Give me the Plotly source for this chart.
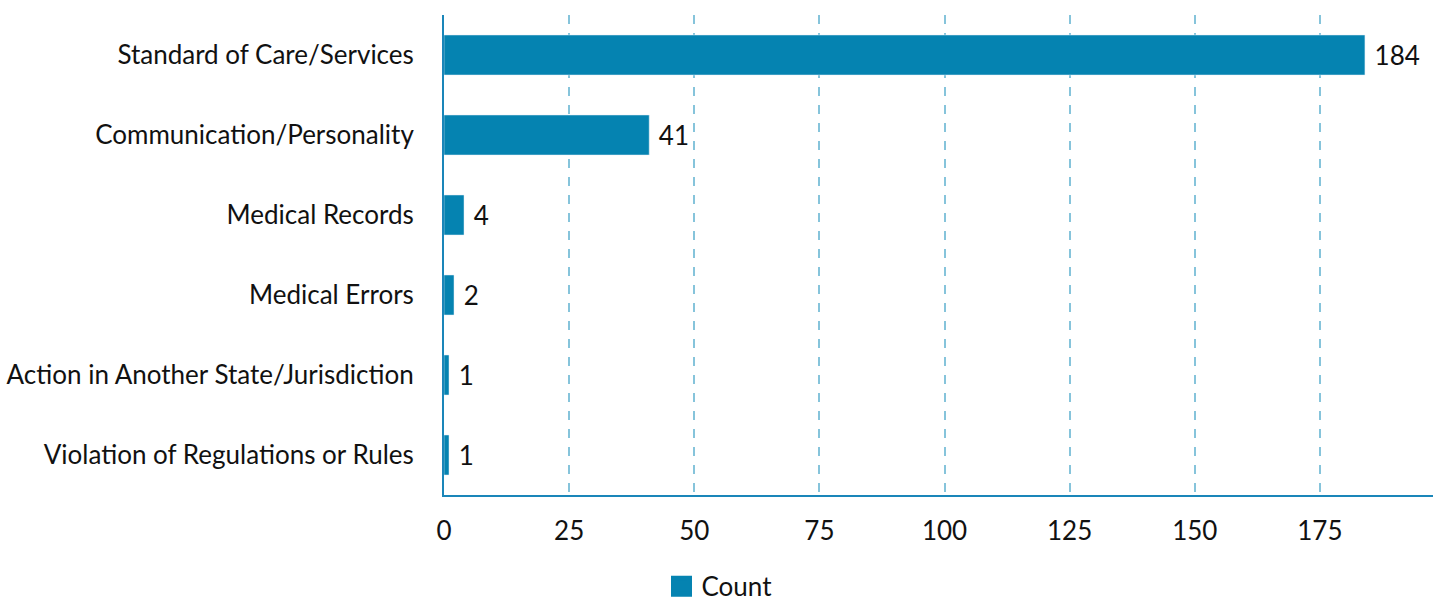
import plotly.graph_objects as go

categories = [
    "Standard of Care/Services",
    "Communication/Personality",
    "Medical Records",
    "Medical Errors",
    "Action in Another State/Jurisdiction",
    "Violation of Regulations or Rules",
]
counts = [184, 41, 4, 2, 1, 1]
x_ticks = [0, 25, 50, 75, 100, 125, 150, 175]

bar_color = "#0583B1"
axis_color = "#1A86B9"
grid_color = "#86C4DB"
font_family = "Lato, 'Open Sans', sans-serif"
font_size = 26

fig = go.Figure()

# The bars themselves, labelled with their value just past the end
fig.add_trace(
    go.Bar(
        x=counts,
        y=categories,
        orientation="h",
        name="Count",
        marker=dict(color=bar_color),
        text=["\u00a0" + str(v) for v in counts],
        textposition="outside",
        textfont=dict(color="#111111", size=font_size, family=font_family),
        cliponaxis=False,
        showlegend=False,
    )
)

# Legend entry with a larger square swatch
fig.add_trace(
    go.Scatter(
        x=[None],
        y=[None],
        mode="markers",
        name="Count",
        marker=dict(symbol="square", size=16, color=bar_color,
                    line=dict(color=bar_color, width=5)),
        showlegend=True,
    )
)

fig.update_layout(
    width=1439,
    height=602,
    margin=dict(l=444, r=6, t=15, b=107),
    paper_bgcolor="white",
    plot_bgcolor="white",
    font=dict(family=font_family, size=font_size, color="#111111"),
    bargap=0.5,
    legend=dict(
        orientation="h",
        xref="container",
        yref="container",
        x=0.5,
        xanchor="center",
        y=0.026,
        yanchor="middle",
        itemsizing="trace",
        font=dict(size=font_size),
    ),
    xaxis=dict(
        range=[0, 197.6],
        tickvals=x_ticks,
        ticktext=[str(t) for t in x_ticks],
        showgrid=True,
        gridcolor=grid_color,
        griddash="dash",
        gridwidth=1.5,
        zeroline=False,
        showline=True,
        linecolor=axis_color,
        linewidth=2,
        ticks="",
        ticklabelstandoff=12,
    ),
    yaxis=dict(
        categoryorder="array",
        categoryarray=categories[::-1],
        showgrid=False,
        zeroline=False,
        showline=True,
        linecolor=axis_color,
        linewidth=2,
        ticks="",
        ticklabelstandoff=23,
    ),
)

fig.write_html("out.html")
